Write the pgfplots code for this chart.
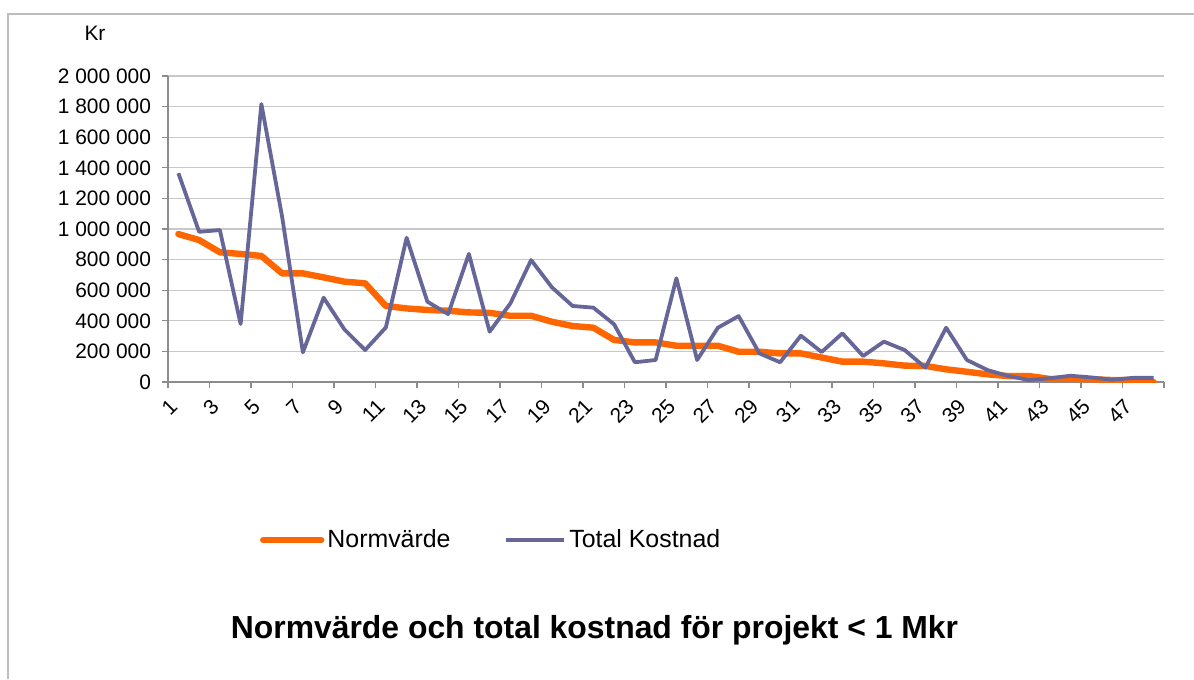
\documentclass[border=0pt]{standalone}
\usepackage{fontspec}
\setmainfont{Liberation Sans}
\usepackage{pgfplots}
\pgfplotsset{compat=1.18}
\definecolor{normc}{RGB}{255,102,0}
\definecolor{totc}{RGB}{102,102,153}
\definecolor{gridc}{RGB}{200,200,200}
\definecolor{axc}{RGB}{140,140,140}
\definecolor{framec}{RGB}{190,190,190}
\begin{document}
\begin{tikzpicture}[x=1bp,y=1bp]
\useasboundingbox (0,0) rectangle (597,-339.5);
\draw[line width=1bp, framec] (3.75,-339.5) -- (3.75,-7) -- (597,-7);
\begin{axis}[
  at={(84bp,-191bp)}, anchor=south west,
  scale only axis, width=498bp, height=153bp,
  xmin=0.5, xmax=48.5, ymin=0, ymax=2000000,
  axis x line*=bottom, axis y line*=left,
  axis line style={draw=axc, line width=0.6bp},
  xtick={1,3,...,47},
  minor xtick={0.5,2.5,...,48.5},
  major x tick style={draw=none},
  minor x tick style={draw=axc, line width=0.6bp},
  y tick style={draw=axc, line width=0.6bp},
  tick align=outside,
  major tick length=3bp, minor tick length=3bp,
  ytick={0,200000,...,2000000},
  scaled y ticks=false,
  ymajorgrids, grid style={draw=gridc, line width=0.6bp},
  yticklabel shift=2bp,
  yticklabel style={font=\fontsize{10.5}{12}\selectfont,
    /pgf/number format/.cd, fixed, precision=0, 1000 sep={\ }, assume math mode=true},
  xticklabel shift=5bp,
  xticklabel style={font=\fontsize{10.5}{12}\selectfont, rotate=45, anchor=east,
    /pgf/number format/assume math mode=true},
  legend columns=2,
  legend style={at={(0.086,-0.516)}, anchor=west, draw=none, fill=none,
    font=\fontsize{12.5}{14}\selectfont,
    /tikz/every odd column/.append style={column sep=-0.5bp},
    /tikz/every even column/.append style={column sep=25bp}},
  legend image code/.code={\draw[#1] (0bp,0bp) -- (29bp,0bp);},
]
\addplot[normc, line width=3.2bp, line join=round, line cap=round] coordinates {
(1,967000) (2,928000) (3,848000) (4,837000) (5,824000) (6,710000) (7,710000) (8,684000)
(9,656000) (10,645000) (11,497000) (12,481000) (13,471000) (14,466000) (15,455000) (16,452000)
(17,433000) (18,433000) (19,394000) (20,366000) (21,355000) (22,275000) (23,259000) (24,259000)
(25,237000) (26,237000) (27,237000) (28,198000) (29,198000) (30,187000) (31,187000) (32,160000)
(33,133000) (34,133000) (35,122000) (36,107000) (37,105000) (38,83000) (39,67000) (40,50000)
(41,39000) (42,39000) (43,20000) (44,20000) (45,18000) (46,13000) (47,13000) (48,0)
};
\addlegendentry{Normvärde}
\addplot[totc, line width=1.9bp, line join=round] coordinates {
(1,1365000) (2,982000) (3,993000) (4,379000) (5,1817000) (6,1080000) (7,194000) (8,551000)
(9,344000) (10,209000) (11,357000) (12,943000) (13,525000) (14,444000) (15,837000) (16,329000)
(17,514000) (18,797000) (19,619000) (20,497000) (21,486000) (22,377000) (23,129000) (24,144000)
(25,678000) (26,144000) (27,355000) (28,431000) (29,187000) (30,129000) (31,303000) (32,196000)
(33,318000) (34,170000) (35,264000) (36,209000) (37,94000) (38,355000) (39,144000) (40,78000)
(41,39000) (42,13000) (43,25000) (44,41000) (45,30000) (46,15000) (47,27000) (48,27000)
};
\addlegendentry{Total Kostnad}
\end{axis}
\node[font=\fontsize{10.5}{12}\selectfont] at (47.5,-16.5) {Kr};
\node[font=\bfseries\fontsize{16}{19}\selectfont] at (297.25,-315) {Normvärde och total kostnad för projekt < 1 Mkr};
\end{tikzpicture}
\end{document}
